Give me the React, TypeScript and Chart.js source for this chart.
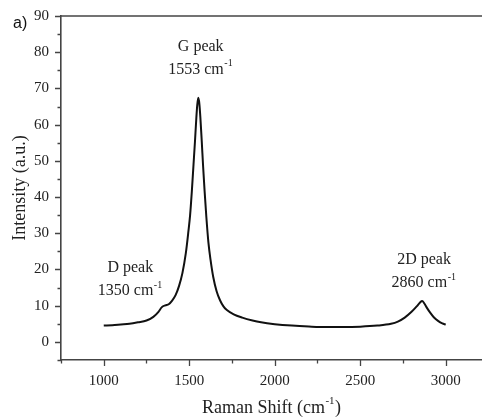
import { useEffect, useRef } from "react";
import { Chart, registerables } from "chart.js";

Chart.register(...registerables);

// Raman spectrum
const ramanShift = [
  1000, 1050, 1100, 1150, 1200, 1250, 1290, 1320, 1340, 1360, 1380, 1400, 1420, 1440, 1460,
  1480, 1495, 1505, 1515, 1525, 1533, 1541, 1547, 1553, 1559, 1565, 1573, 1581, 1590, 1600,
  1612, 1625, 1640, 1660, 1680, 1700, 1720, 1760, 1810, 1870, 1920, 2000, 2100, 2200, 2300,
  2400, 2500, 2600, 2680, 2720, 2760, 2800, 2830, 2850, 2862, 2875, 2890, 2910, 2930, 2955,
  2980, 3000,
];
const intensity = [
  4.5, 4.6, 4.8, 5.0, 5.4, 5.9, 6.9, 8.3, 9.6, 10.1, 10.4, 11.4, 12.9, 15.4, 19.0,
  24.5, 30.5, 35.0, 41.5, 49.0, 55.0, 61.5, 65.5, 67.4, 65.8, 62.0, 55.5, 48.5, 41.5, 34.5,
  27.5, 22.5, 18.0, 14.0, 11.5, 9.8, 8.8, 7.6, 6.7, 5.9, 5.4, 4.9, 4.5, 4.25, 4.1,
  4.1, 4.2, 4.5, 5.0, 5.6, 6.7, 8.3, 9.8, 10.9, 11.3, 10.6, 9.4, 8.0, 6.8, 5.8,
  5.1, 4.8,
];

const xMajorTicks = [1000, 1500, 2000, 2500, 3000];
const xMinorTicks = [750, 1250, 1750, 2250, 2750];
const yMajorTicks = [0, 10, 20, 30, 40, 50, 60, 70, 80, 90];
const yMinorTicks = [-5, 5, 15, 25, 35, 45, 55, 65, 75, 85];

const peakNames = ["G peak", "D peak", "2D peak"];
const peakShifts = ["1553", "1350", "2860"];

// annotation anchors (data coordinates), kept apart from the data
const peakLabelX = [1567, 1155, 2873];
const peakLabelY = [81.5, 20.4, 22.6];

const SERIF = '"Liberation Serif", "Times New Roman", serif';
const AXIS_COLOR = "#444";
const TEXT_COLOR = "#222";

function drawSup(
  ctx: CanvasRenderingContext2D,
  base: string,
  sup: string,
  tail: string,
  cx: number,
  cy: number,
  size: number
) {
  const supSize = Math.round(size * 0.62);
  ctx.font = `${size}px ${SERIF}`;
  const wb = ctx.measureText(base).width;
  const wt = ctx.measureText(tail).width;
  ctx.font = `${supSize}px ${SERIF}`;
  const ws = ctx.measureText(sup).width;
  const start = cx - (wb + ws + 1 + wt) / 2;
  ctx.textAlign = "left";
  ctx.textBaseline = "middle";
  ctx.font = `${size}px ${SERIF}`;
  ctx.fillText(base, start, cy);
  if (tail) ctx.fillText(tail, start + wb + ws + 1, cy);
  ctx.font = `${supSize}px ${SERIF}`;
  ctx.fillText(sup, start + wb + 0.5, cy - size * 0.38);
}

const decorPlugin = {
  id: "decor",
  afterDraw(chart: any) {
    const ctx: CanvasRenderingContext2D = chart.ctx;
    const xs = chart.scales.x;
    const ys = chart.scales.y;
    const { left, right, top, bottom } = chart.chartArea;
    ctx.save();
    ctx.strokeStyle = AXIS_COLOR;
    ctx.lineWidth = 1.6;
    ctx.beginPath();
    ctx.moveTo(left - 0.8, top);
    ctx.lineTo(chart.width, top);
    ctx.stroke();

    ctx.lineWidth = 1.3;
    ctx.beginPath();
    xMajorTicks.forEach((v) => {
      const p = Math.round(xs.getPixelForValue(v)) + 0.5;
      ctx.moveTo(p, bottom);
      ctx.lineTo(p, bottom + 6);
    });
    xMinorTicks.forEach((v) => {
      const p = Math.round(xs.getPixelForValue(v)) + 0.5;
      ctx.moveTo(p, bottom);
      ctx.lineTo(p, bottom + 3.5);
    });
    yMajorTicks.forEach((v) => {
      const p = Math.round(ys.getPixelForValue(v)) + 0.5;
      ctx.moveTo(left, p);
      ctx.lineTo(left - 6, p);
    });
    yMinorTicks.forEach((v) => {
      const p = Math.round(ys.getPixelForValue(v)) + 0.5;
      ctx.moveTo(left, p);
      ctx.lineTo(left - 3.5, p);
    });
    ctx.stroke();

    ctx.fillStyle = TEXT_COLOR;
    // peak annotations
    peakNames.forEach((name, i) => {
      const cx = xs.getPixelForValue(peakLabelX[i]);
      const cy = ys.getPixelForValue(peakLabelY[i]);
      ctx.font = `16px ${SERIF}`;
      ctx.textAlign = "center";
      ctx.textBaseline = "middle";
      ctx.fillText(name, cx, cy);
      drawSup(ctx, `${peakShifts[i]} cm`, "-1", "", cx, cy + 23, 16);
    });

    // x axis title
    drawSup(ctx, "Raman Shift (cm", "-1", ")", (left + right) / 2, 408, 18);

    // panel label
    ctx.font = '16px "Liberation Sans", Arial, sans-serif';
    ctx.textAlign = "left";
    ctx.textBaseline = "middle";
    ctx.fillStyle = "#111";
    ctx.fillText("a)", 13, 24);
    ctx.restore();
  },
};

export default function App() {
  const ref = useRef<HTMLCanvasElement>(null);
  useEffect(() => {
    document.body.style.margin = "0";
    const points = ramanShift.map((x, i) => ({ x, y: intensity[i] }));
    const chart = new Chart(ref.current as HTMLCanvasElement, {
      type: "line",
      data: {
        datasets: [
          {
            data: points,
            borderColor: "#111",
            borderWidth: 2,
            pointRadius: 0,
            fill: false,
            cubicInterpolationMode: "monotone",
          },
        ],
      },
      options: {
        animation: false,
        responsive: false,
        devicePixelRatio: 1,
        layout: { padding: { top: 16, right: 0, left: 0, bottom: 0 } },
        plugins: { legend: { display: false }, tooltip: { enabled: false } },
        scales: {
          x: {
            type: "linear",
            min: 750,
            max: 3212,
            afterBuildTicks: (s: any) => {
              s.ticks = xMajorTicks.map((v) => ({ value: v }));
            },
            afterFit: (s: any) => {
              s.height = 58;
            },
            grid: { display: false },
            border: { display: true, color: AXIS_COLOR, width: 1.6 },
            ticks: {
              padding: 4,
              color: TEXT_COLOR,
              font: { family: SERIF, size: 15 },
              maxRotation: 0,
              autoSkip: false,
              callback: (v: any) => String(v),
            },
          },
          y: {
            type: "linear",
            min: -5,
            max: 90,
            afterBuildTicks: (s: any) => {
              s.ticks = yMajorTicks.map((v) => ({ value: v }));
            },
            afterFit: (s: any) => {
              s.width = 61;
            },
            grid: { display: false },
            border: { display: true, color: AXIS_COLOR, width: 1.6 },
            title: {
              display: true,
              text: "Intensity (a.u.)",
              color: TEXT_COLOR,
              font: { family: SERIF, size: 18 },
              padding: { top: 9, bottom: 0 },
            },
            ticks: {
              padding: 4,
              color: TEXT_COLOR,
              font: { family: SERIF, size: 15 },
              autoSkip: false,
              callback: (v: any) => String(v),
            },
          },
        },
      },
      plugins: [decorPlugin],
    } as any);
    return () => chart.destroy();
  }, []);
  return (
    <div style={{ position: "relative", width: 482, height: 418 }}>
      <canvas ref={ref} width={482} height={418} style={{ display: "block", width: 482, height: 418 }} />
    </div>
  );
}
